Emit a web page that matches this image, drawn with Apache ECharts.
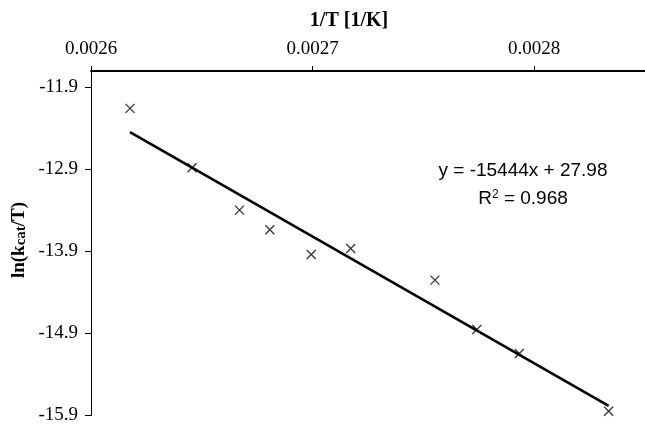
<!DOCTYPE html>
<html>
<head>
<meta charset="utf-8">
<script src="https://cdn.jsdelivr.net/npm/echarts@6/dist/echarts.min.js"></script>
<style>
  html, body { margin: 0; padding: 0; background: #fff; }
  #chart { width: 645px; height: 425px; }
</style>
</head>
<body>
<div id="chart"></div>
<script>
// Arrhenius-type plot: inverse temperature vs ln(kcat/T)
const invT = [0.0026176, 0.0026456, 0.0026670, 0.0026807, 0.0026994,
              0.0027172, 0.0027552, 0.0027741, 0.0027933, 0.0028336];
const lnKcatOverT = [-12.156, -12.879, -13.396, -13.635, -13.937,
                     -13.863, -14.250, -14.851, -15.144, -15.848];

// Linear fit reported on the chart
const fitSlope = -15444;
const fitIntercept = 27.98;
const fitR2 = 0.968;

// Axis ranges and tick spacing
const xRange = [0.0026, 0.00285];
const xStep = 0.0001;
const yRange = [-15.9, -11.7];
const yStep = 1;

const points = invT.map((x, i) => [x, lnKcatOverT[i]]);
const xFitStart = Math.min(...invT);
const xFitEnd = Math.max(...invT);
const fitLine = [xFitStart, xFitEnd].map(x => [x, fitSlope * x + fitIntercept]);

const serif = '"Liberation Serif", "Times New Roman", serif';
const sans = '"Liberation Sans", Arial, sans-serif';

const chart = echarts.init(document.getElementById('chart'), null, { renderer: 'canvas' });

chart.setOption({
  animation: false,
  backgroundColor: '#fff',
  grid: { left: 91, top: 71, width: 557, height: 345, containLabel: false },
  xAxis: {
    type: 'value',
    position: 'top',
    min: xRange[0],
    max: xRange[1],
    interval: xStep,
    axisLine: { show: true, onZero: false, lineStyle: { color: '#000', width: 2 } },
    axisTick: { show: true, inside: false, length: 5, lineStyle: { color: '#000', width: 1 } },
    axisLabel: {
      show: true, margin: 12, color: '#000', fontFamily: serif, fontSize: 19,
      showMaxLabel: false,
      formatter: v => v.toFixed(4)
    },
    splitLine: { show: false }
  },
  yAxis: {
    type: 'value',
    min: yRange[0],
    max: yRange[1],
    interval: yStep,
    axisLine: { show: true, onZero: false, lineStyle: { color: '#000', width: 1 } },
    axisTick: { show: true, inside: false, length: 6, lineStyle: { color: '#000', width: 1 } },
    axisLabel: {
      show: true, margin: 13, color: '#000', fontFamily: serif, fontSize: 19,
      showMaxLabel: false,
      formatter: v => v.toFixed(1)
    },
    splitLine: { show: false }
  },
  series: [
    {
      type: 'line',
      data: fitLine,
      showSymbol: false,
      symbol: 'none',
      lineStyle: { color: '#000', width: 2.6 },
      z: 2
    },
    {
      type: 'scatter',
      data: points,
      symbol: 'path://M0,0L10,10M10,0L0,10',
      symbolSize: 9,
      itemStyle: { color: 'none', borderColor: '#000', borderWidth: 1.3 },
      z: 3
    }
  ],
  graphic: [
    {
      type: 'text',
      x: 349, y: 21,
      style: {
        text: '1/T [1/K]',
        font: 'bold 20px ' + serif,
        fill: '#000',
        align: 'center',
        verticalAlign: 'middle'
      }
    },
    {
      type: 'text',
      x: 19, y: 240,
      rotation: Math.PI / 2,
      style: {
        text: 'ln(k{sub|cat}/T)',
        font: 'bold 19px ' + serif,
        fill: '#000',
        align: 'center',
        verticalAlign: 'middle',
        rich: {
          sub: { font: 'bold 15px ' + serif, fill: '#000', padding: [5, 0, 0, 0] }
        }
      }
    },
    {
      type: 'text',
      x: 523, y: 171,
      style: {
        text: 'y = ' + fitSlope + 'x + ' + fitIntercept.toFixed(2),
        font: '19px ' + sans,
        fill: '#000',
        align: 'center',
        verticalAlign: 'middle'
      }
    },
    {
      type: 'text',
      x: 523, y: 199,
      style: {
        text: 'R{sup|2} = ' + fitR2.toFixed(3),
        font: '19px ' + sans,
        fill: '#000',
        align: 'center',
        verticalAlign: 'middle',
        rich: {
          sup: { font: '12px ' + sans, fill: '#000', padding: [0, 0, 9, 0] }
        }
      }
    }
  ]
});
</script>
</body>
</html>
